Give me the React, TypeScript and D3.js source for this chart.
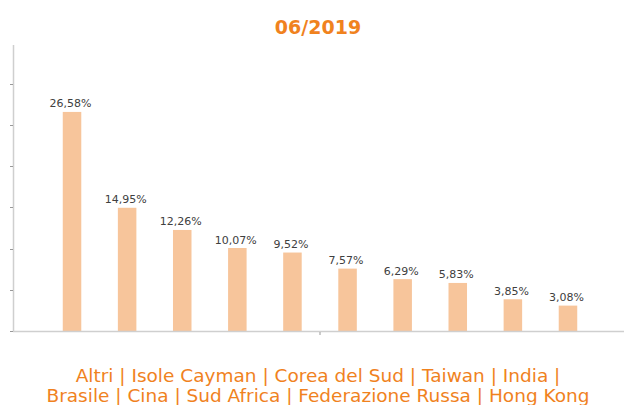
import React from "react";
import * as d3 from "d3";

const categories: string[] = [
  "Altri",
  "Isole Cayman",
  "Corea del Sud",
  "Taiwan",
  "India",
  "Brasile",
  "Cina",
  "Sud Africa",
  "Federazione Russa",
  "Hong Kong",
];
const values: number[] = [26.58, 14.95, 12.26, 10.07, 9.52, 7.57, 6.29, 5.83, 3.85, 3.08];
const yTicks: number[] = [0, 5, 10, 15, 20, 25, 30];
const title = "06/2019";
const legendLines: string[] = [
  "Altri | Isole Cayman | Corea del Sud | Taiwan | India |",
  "Brasile | Cina | Sud Africa | Federazione Russa | Hong Kong",
];

const W = 624;
const H = 405;
const ORANGE = "#F0821E";
const BAR = "#F7C59B";

export default function App() {
  const x = d3
    .scaleBand<string>()
    .domain(categories)
    .range([13, 627])
    .paddingInner(0.664)
    .paddingOuter(0.903);
  const y = d3.scaleLinear().domain([0, 34.7]).range([331, 45]);
  const fmt = (v: number) => v.toFixed(2).replace(".", ",") + "%";
  const font = "'DejaVu Sans', Verdana, sans-serif";
  const xMid = (13 + 627) / 2;

  return (
    <svg
      width={W}
      height={H}
      style={{ position: "absolute", left: 0, top: 0, background: "#fff" }}
    >
      <text
        x={318}
        y={34}
        textAnchor="middle"
        fontFamily={font}
        fontWeight="bold"
        fontSize={19}
        fill={ORANGE}
      >
        {title}
      </text>

      {/* y axis */}
      <line x1={13.5} x2={13.5} y1={y.range()[1]} y2={y(0)} stroke="#cfcfcf" strokeWidth={1.5} />
      {yTicks.map((t) => (
        <line
          key={t}
          x1={10}
          x2={13}
          y1={Math.round(y(t)) + 0.5}
          y2={Math.round(y(t)) + 0.5}
          stroke="#999"
          strokeWidth={1}
        />
      ))}

      {/* bars */}
      {categories.map((c, i) => (
        <rect
          key={c}
          x={x(c)!}
          y={y(values[i])}
          width={x.bandwidth()}
          height={y(0) - y(values[i])}
          fill={BAR}
        />
      ))}

      {/* x axis */}
      <line x1={13} x2={W} y1={331.5} y2={331.5} stroke="#cfcfcf" strokeWidth={1.5} />
      <line x1={xMid} x2={xMid} y1={332} y2={335} stroke="#999" strokeWidth={1} />

      {/* value labels */}
      {categories.map((c, i) => (
        <text
          key={c + "l"}
          x={x(c)! + x.bandwidth() / 2 - 1.5}
          y={y(values[i]) - 4.5}
          textAnchor="middle"
          fontFamily={font}
          fontSize={11}
          fill="#404040"
        >
          {fmt(values[i])}
        </text>
      ))}

      {/* legend */}
      {legendLines.map((l, i) => (
        <text
          key={i}
          x={318}
          y={381.7 + i * 20}
          textAnchor="middle"
          fontFamily={font}
          fontSize={18.5}
          fill={ORANGE}
        >
          {l}
        </text>
      ))}
    </svg>
  );
}
